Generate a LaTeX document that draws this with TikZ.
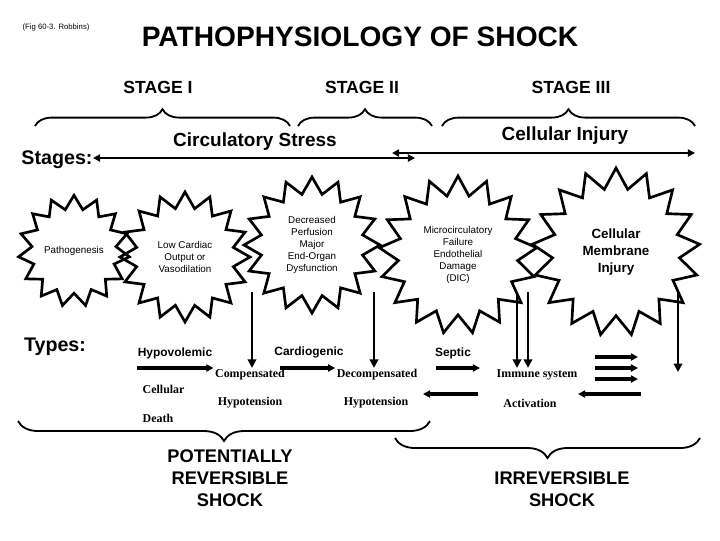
\documentclass[tikz,border=0pt]{standalone}
\usepackage{fontspec}
\setmainfont{Liberation Serif}
\setsansfont{Liberation Sans}
\usepackage{tikz}
\usetikzlibrary{shapes.geometric,decorations.pathreplacing,arrows.meta}

\begin{document}
\begin{tikzpicture}[x=0.025cm, y=-0.025cm,
	every node/.style={font=\sffamily, inner sep=1pt},
	burst/.style={star, star point ratio=1.32, draw, line width=1.9pt, inner sep=0pt, align=center, font=\sffamily\fontsize{7}{8.6}\selectfont},
	stagetxt/.style={font=\sffamily\bfseries\fontsize{12.5}{14}\selectfont},
	phasetxt/.style={font=\sffamily\bfseries\fontsize{13.5}{15}\selectfont},
	headtxt/.style={font=\sffamily\bfseries\fontsize{14}{16}\selectfont},
	typetxt/.style={font=\sffamily\bfseries\fontsize{8.5}{10}\selectfont},
	steptxt/.style={font=\rmfamily\bfseries\fontsize{8.5}{10}\selectfont},
	shocktxt/.style={font=\sffamily\bfseries\fontsize{13}{15.5}\selectfont, align=center},
	bracetop/.style={decorate, decoration={brace, amplitude=0.42cm}, line width=1.3pt},
	bracelow/.style={decorate, decoration={brace, amplitude=0.5cm}, line width=1.3pt},
	varrow/.style={line width=2pt, -{Triangle[length=6pt,width=6pt]}},
	harrow/.style={line width=3pt, -{Triangle[length=5pt,width=5pt]}},
	spanline/.style={line width=1.5pt, {Triangle[length=5pt,width=5pt]}-{Triangle[length=5pt,width=5pt]}}
	]

	\useasboundingbox (0,0) rectangle (720,540);

	\node[font=\sffamily\fontsize{5.5}{6}\selectfont] (fig) at (56,27) {(Fig 60-3. Robbins)};
	\node[font=\sffamily\bfseries\fontsize{20}{24}\selectfont] (title) at (360,37) {PATHOPHYSIOLOGY OF SHOCK};

	\node[stagetxt] (s1) at (158,87) {STAGE I};
	\node[stagetxt] (s2) at (362,87) {STAGE II};
	\node[stagetxt] (s3) at (571,87) {STAGE III};

	\draw[bracetop] (35,126) -- (290,126);
	\draw[bracetop] (298,126) -- (432,126);
	\draw[bracetop] (442,126) -- (695,126);

	\node[phasetxt] (circ) at (255,142) {Circulatory Stress};
	\node[phasetxt] (cell) at (565,136) {Cellular Injury};
	\node[headtxt] (stages) at (57,160) {Stages:};
	\node[headtxt] (types) at (55,347) {Types:};

	\coordinate (c1) at (93,158);
	\coordinate (c2) at (415,158);
	\coordinate (c3) at (392,153);
	\coordinate (c4) at (695,153);
	\draw[spanline] (c1) -- (c2);
	\draw[spanline] (c3) -- (c4);

	\node[burst, star points=15, minimum size=2.6cm] (b1) at (74,251) {Pathogenesis};
	\node[burst, star points=16, minimum size=3.25cm] (b2) at (185,257) {Low Cardiac\\Output or\\Vasodilation};
	\node[burst, star points=16, minimum size=3.4cm] (b3) at (312,245) {Decreased\\Perfusion\\Major\\End-Organ\\Dysfunction};
	\node[burst, star points=17, minimum size=3.95cm] (b4) at (458,255) {Microcirculatory\\Failure\\Endothelial\\Damage\\(DIC)};
	\node[burst, star points=17, minimum size=4.2cm, font=\sffamily\bfseries\fontsize{9.5}{12}\selectfont] (b5) at (616,252) {Cellular\\Membrane\\Injury};

	\node[typetxt] (hypo) at (175,353) {Hypovolemic};
	\node[typetxt] (cardio) at (309,352) {Cardiogenic};
	\node[typetxt] (septic) at (453,353) {Septic};

	\node[steptxt] (comp) at (250,375) {Compensated};
	\node[steptxt] (decomp) at (377,375) {Decompensated};
	\node[steptxt] (hyp1) at (250,403) {Hypotension};
	\node[steptxt] (hyp2) at (376,403) {Hypotension};
	\node[steptxt, anchor=west] (celld) at (141,389) {Cellular};
	\node[steptxt, anchor=west] (death) at (141,418) {Death};
	\node[steptxt] (immune) at (537,375) {Immune system};
	\node[steptxt] (activ) at (530,403) {Activation};

	\coordinate (v1) at (252,292);
	\coordinate (v2) at (374,292);
	\coordinate (v3) at (517,292);
	\coordinate (v4) at (528,292);
	\coordinate (v5) at (678,292);
	\coordinate (v6) at (678,372);
	\foreach \v in {v1,v2,v3,v4}{
		\draw[varrow] (\v) -- (\v |- comp.north);
	}
	\draw[varrow] (v5) -- (v6);

	\coordinate (h1) at (137,368);
	\coordinate (h2) at (280,368);
	\coordinate (h3) at (436,368);
	\coordinate (h4) at (480,368);
	\coordinate (l1) at (478,394);
	\coordinate (l2) at (423,394);
	\coordinate (l3) at (641,394);
	\coordinate (l4) at (578,394);
	\draw[harrow] (h1) -- (comp.west |- h1);
	\draw[harrow] (h2) -- (decomp.west |- h2);
	\draw[harrow] (h3) -- (h4);
	\draw[harrow] (l1) -- (l2);
	\draw[harrow] (l3) -- (l4);
	\foreach \y in {357,368,379}{
		\draw[harrow] (595,\y) -- (638,\y);
	}

	\draw[bracelow] (430,421) -- (18,421);
	\draw[bracelow] (700,438) -- (395,438);

	\node[shocktxt] (pot) at (230,478) {POTENTIALLY\\REVERSIBLE\\SHOCK};
	\node[shocktxt] (irr) at (562,489) {IRREVERSIBLE\\SHOCK};
\end{tikzpicture}
\end{document}
